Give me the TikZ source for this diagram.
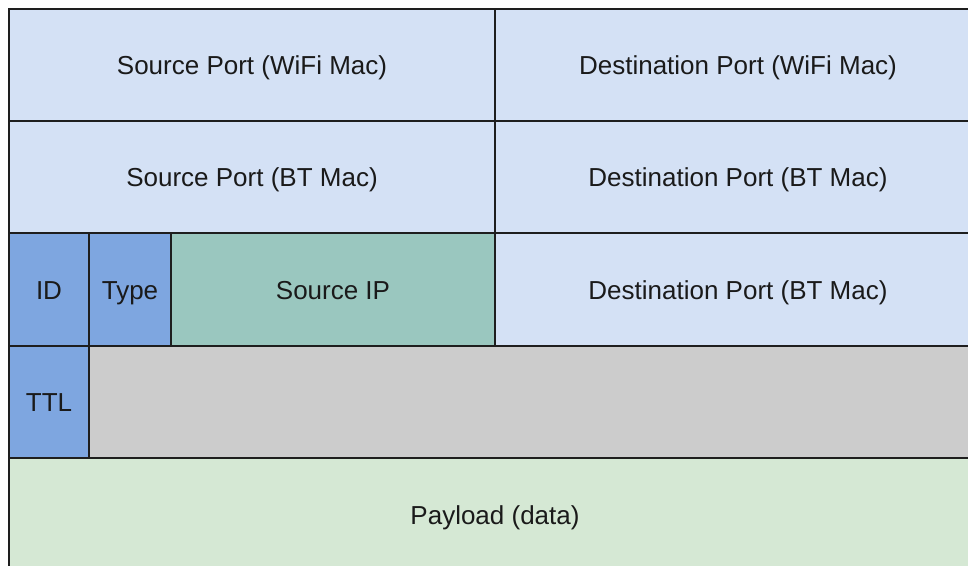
\documentclass[tikz,border=0pt]{standalone}
\usepackage{fontspec}
\setmainfont{Liberation Sans}
\definecolor{lightblue}{HTML}{D4E1F5}
\definecolor{midblue}{HTML}{7EA6E0}
\definecolor{teal}{HTML}{9AC7BF}
\definecolor{graycell}{HTML}{CCCCCC}
\definecolor{greencell}{HTML}{D5E8D4}
\definecolor{edge}{HTML}{1E1E1E}
\definecolor{ink}{HTML}{1A1A1A}
\tikzset{
  cell/.style={draw=edge, line width=1.6pt, rectangle, inner sep=0pt, outer sep=0pt,
    text=ink, font=\fontsize{26}{31}\selectfont, text height=0.716em, text depth=0pt},
}
% cell with explicit corners: #1 = left, #2 = top, #3 = right, #4 = bottom (pixels, y downward)
\newcommand\cellat[7]{%
  \node[cell, fill=#5, minimum width={(#3-#1)*1pt}, minimum height={(#4-#2)*1pt}]
    (#6) at ({(#1+#3)/2}, {(#2+#4)/2}) {};
  \node[text=ink, font=\fontsize{26}{31}\selectfont, inner sep=0pt, anchor=base]
    at ([yshift=-9.5pt]#6.center) {#7};}
\begin{document}
\begin{tikzpicture}[x=1pt, y=-1pt]
  \useasboundingbox (0,0) rectangle (968,565);
  \clip (0,0) rectangle (968,565);
  \fill[white] (0,0) rectangle (968,565);
  % row 1
  \cellat{9}{9}{495}{121}{lightblue}{srcwifi}{Source Port (WiFi Mac)}
  \cellat{495}{9}{981}{121}{lightblue}{dstwifi}{Destination Port (WiFi Mac)}
  % row 2
  \cellat{9}{121}{495}{233}{lightblue}{srcbt}{Source Port (BT Mac)}
  \cellat{495}{121}{981}{233}{lightblue}{dstbt}{Destination Port (BT Mac)}
  % row 3
  \cellat{9}{233}{89}{346}{midblue}{id}{ID}
  \cellat{89}{233}{171}{346}{midblue}{type}{Type}
  \cellat{171}{233}{495}{346}{teal}{srcip}{Source IP}
  \cellat{495}{233}{981}{346}{lightblue}{dstbt2}{Destination Port (BT Mac)}
  % row 4
  \cellat{9}{346}{89}{458}{midblue}{ttl}{TTL}
  \cellat{89}{346}{981}{458}{graycell}{spare}{}
  % row 5
  \cellat{9}{458}{981}{572}{greencell}{payload}{Payload (data)}
\end{tikzpicture}
\end{document}
